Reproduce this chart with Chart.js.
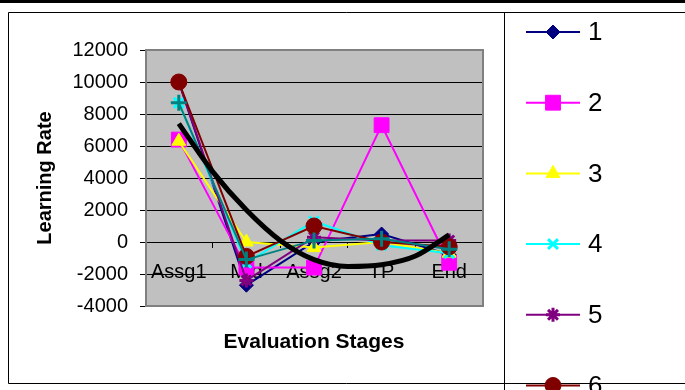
<!DOCTYPE html>
<html>
<head>
<meta charset="utf-8">
<script src="https://cdn.jsdelivr.net/npm/chart.js@4.4.0/dist/chart.umd.min.js"></script>
<style>
  html, body { margin: 0; padding: 0; background: #fff; }
  #wrap { width: 685px; height: 390px; position: relative; }
</style>
</head>
<body>
<div id="wrap"><canvas id="learning-chart"></canvas></div>
<script>
// categories on the x axis
const stages = ['Assg1', 'Mid', 'Assg2', 'TP', 'End'];

// learning rate per stage, one array per series
const series1 = [10000, -2700, 0, 500, -800];
const series2 = [6400, -1600, -1600, 7300, -1300];
const series3 = [6300, 0, -350, 0, -700];
const series4 = [8700, -1300, 1300, -200, -700];
const series5 = [10000, -2400, 300, 100, 100];
const series6 = [10000, -900, 1000, 0, -300];
const series7 = [8700, -1100, 100, 200, -450];

// black trend curve, read at whole and half stage positions
const trendX = [1, 1.5, 2, 2.5, 3, 3.5, 4, 4.5, 5];
const trendY = [7400, 4400, 2000, 100, -1100, -1530, -1420, -875, 450];

// y axis range
const yMin = -4000;
const yMax = 12000;
const yStep = 2000;

const seriesNames = ['1', '2', '3', '4', '5', '6', '7'];
const seriesColors = ['#000080', '#FF00FF', '#FFFF00', '#00FFFF', '#800080', '#800000', '#008080'];
const seriesMarkers = ['rectRot', 'rect', 'triangle', 'crossRot', 'star', 'circle', 'cross'];
const markerSizes = [7, 10.5, 8, 7, 7, 8, 8];

const allSeries = [series1, series2, series3, series4, series5, series6, series7];

Chart.defaults.font.family = 'Arial, "Liberation Sans", sans-serif';
Chart.defaults.color = '#000';

const datasets = allSeries.map((values, i) => {
  const stroked = ['crossRot', 'star', 'cross'].includes(seriesMarkers[i]);
  return {
    label: seriesNames[i],
    data: values,
    xAxisID: 'x',
    borderColor: seriesColors[i],
    backgroundColor: seriesColors[i],
    borderWidth: 2,
    pointStyle: seriesMarkers[i],
    pointRadius: markerSizes[i],
    pointBorderWidth: stroked ? 3 : 1,
    pointBorderColor: seriesColors[i],
    pointBackgroundColor: seriesColors[i],
    tension: 0,
    order: allSeries.length - i
  };
});

datasets.push({
  label: 'trend',
  data: trendX.map((x, i) => ({ x: x, y: trendY[i] })),
  xAxisID: 'xt',
  borderColor: '#000',
  borderWidth: 5,
  pointRadius: 0,
  cubicInterpolationMode: 'monotone',
  order: 0
});

// page frame, grey plot area and the side legend
const frame = {
  id: 'frame',
  beforeDraw(chart) {
    const { ctx, chartArea: a } = chart;
    ctx.save();
    ctx.fillStyle = '#fff';
    ctx.fillRect(0, 0, chart.width, chart.height);
    ctx.fillStyle = '#000';
    ctx.fillRect(0, 0, chart.width, 3);
    ctx.strokeStyle = '#000';
    ctx.lineWidth = 1;
    ctx.beginPath();
    ctx.moveTo(8.5, 12.5); ctx.lineTo(chart.width, 12.5);
    ctx.moveTo(8.5, 12.5); ctx.lineTo(8.5, 383.5);
    ctx.moveTo(8.5, 383.5); ctx.lineTo(chart.width, 383.5);
    ctx.moveTo(504.5, 12.5); ctx.lineTo(504.5, chart.height);
    ctx.stroke();
    ctx.fillStyle = '#c0c0c0';
    ctx.fillRect(a.left, a.top, a.width, a.height);
    ctx.restore();
  },
  beforeDatasetsDraw(chart) {
    const { ctx, chartArea: a } = chart;
    ctx.save();
    ctx.strokeStyle = '#808080';
    ctx.lineWidth = 2;
    ctx.strokeRect(a.left + 1, a.top, a.width - 1, a.height);
    ctx.restore();
  },
  afterDraw(chart) {
    const ctx = chart.ctx;
    ctx.save();
    allSeries.forEach((s, i) => {
      const ds = chart.data.datasets[i];
      const y = 32 + i * 70.7;
      ctx.strokeStyle = ds.borderColor;
      ctx.lineWidth = 2;
      ctx.beginPath();
      ctx.moveTo(526, y);
      ctx.lineTo(580, y);
      ctx.stroke();
      ctx.fillStyle = ds.pointBackgroundColor;
      ctx.strokeStyle = ds.pointBorderColor;
      ctx.lineWidth = ds.pointBorderWidth;
      Chart.helpers.drawPoint(ctx, {
        pointStyle: ds.pointStyle,
        rotation: 0,
        radius: ds.pointRadius,
        borderWidth: ds.pointBorderWidth
      }, 553, y);
      ctx.fillStyle = '#000';
      ctx.font = '26px Arial, "Liberation Sans", sans-serif';
      ctx.textAlign = 'left';
      ctx.textBaseline = 'middle';
      ctx.fillText(ds.label, 588, y + 1);
    });
    ctx.restore();
  }
};

const ctx = document.getElementById('learning-chart').getContext('2d');
const chart = new Chart(ctx, {
  type: 'line',
  data: { labels: stages, datasets: datasets },
  plugins: [frame],
  options: {
    responsive: true,
    maintainAspectRatio: false,
    animation: false,
    layout: { padding: { left: 20, right: 202, top: 50, bottom: 0 } },
    plugins: {
      legend: { display: false },
      tooltip: { enabled: false }
    },
    scales: {
      x: {
        type: 'category',
        offset: true,
        grid: { display: false, drawTicks: false },
        border: { display: false },
        ticks: { display: false },
        title: {
          display: true,
          text: 'Evaluation Stages',
          font: { size: 21, weight: 'bold' },
          padding: { top: 0, bottom: 35 }
        },
        afterFit: scale => { scale.height = 84; }
      },
      xLabels: {
        type: 'category',
        labels: stages,
        offset: true,
        position: { y: 0 },
        grid: { offset: true, drawOnChartArea: false, drawTicks: true, tickLength: 5, color: '#000' },
        border: { display: true, color: '#000', width: 1 },
        ticks: { font: { size: 20 }, padding: 13, maxRotation: 0, autoSkip: false }
      },
      xt: {
        type: 'linear',
        min: 0.5,
        max: 5.5,
        display: false
      },
      y: {
        min: yMin,
        max: yMax,
        ticks: {
          stepSize: yStep,
          font: { size: 20 },
          padding: 12,
          callback: v => String(v)
        },
        grid: {
          color: c => (c.tick && (c.tick.value === yMax || c.tick.value === yMin)) ? 'rgba(0,0,0,0)' : '#000',
          tickColor: '#000',
          tickLength: 5
        },
        border: { display: true, color: '#000', width: 1 },
        title: {
          display: true,
          text: 'Learning Rate',
          font: { size: 20, weight: 'bold' },
          padding: { top: 13, bottom: 0 }
        },
        afterFit: scale => { scale.width = 125; }
      }
    }
  }
});
</script>
</body>
</html>
